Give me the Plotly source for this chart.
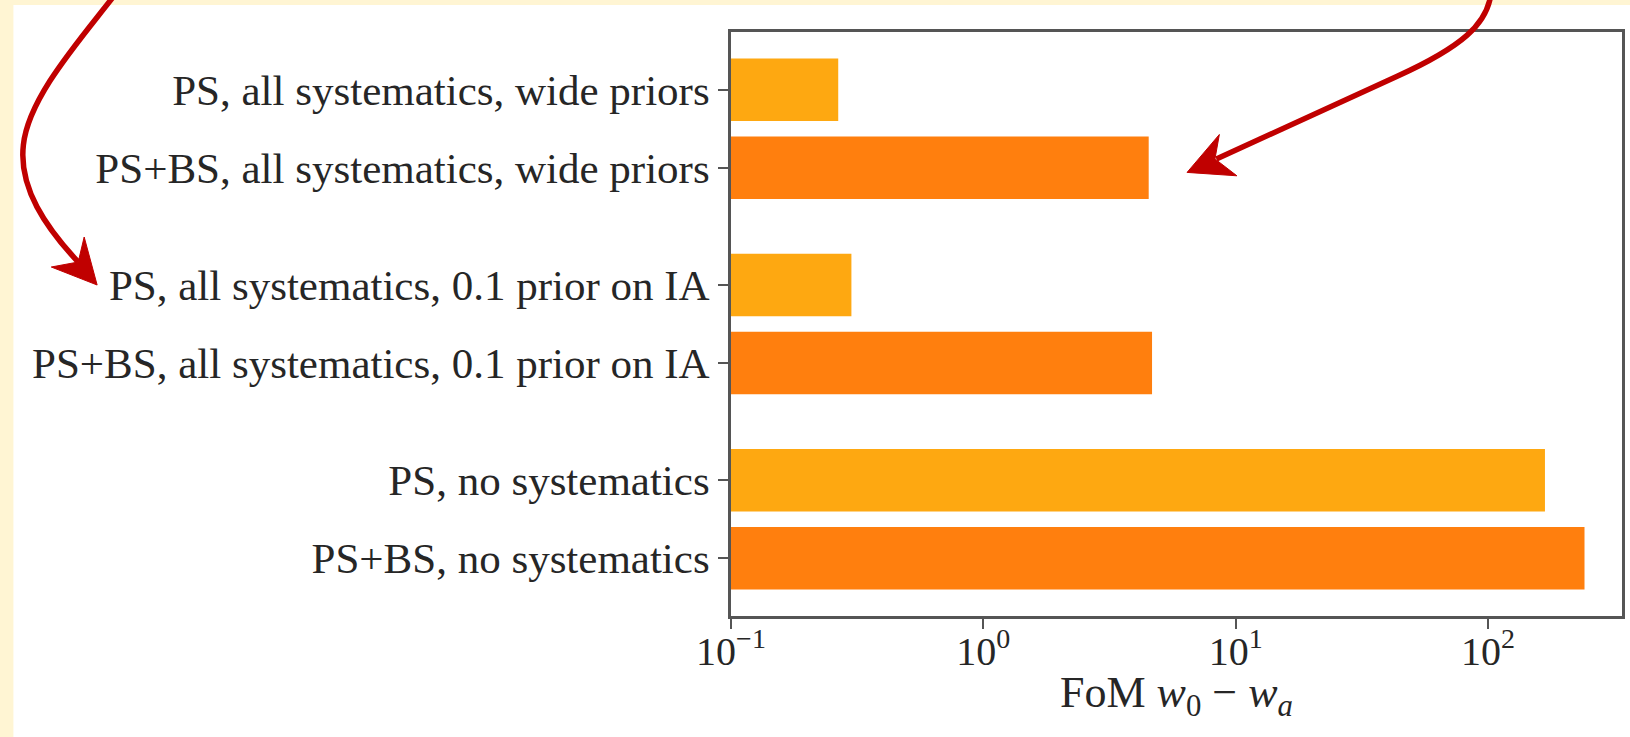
import plotly.graph_objects as go

# ---- data ----
categories = [
    "PS, all systematics, wide priors",
    "PS+BS, all systematics, wide priors",
    "PS, all systematics, 0.1 prior on IA",
    "PS+BS, all systematics, 0.1 prior on IA",
    "PS, no systematics",
    "PS+BS, no systematics",
]
probe = ["PS", "PS+BS", "PS", "PS+BS", "PS", "PS+BS"]
fom = [0.266, 4.52, 0.300, 4.66, 168, 241]

tick_vals = [0.1, 1, 10, 100]
tick_text = ["10<sup>−1</sup>", "10<sup>0</sup>", "10<sup>1</sup>", "10<sup>2</sup>"]
x_title = "FoM <i>w</i><sub>0</sub> − <i>w</i><sub><i>a</i></sub>"

colors = {"PS": "#FEA811", "PS+BS": "#FF7F0E"}

# positions: pairs grouped with a gap between groups
y_pos = [(i // 2) * 2.5 + (i % 2) for i in range(len(categories))]

W, H = 1630, 737
ML, MR, MT, MB = 731, 5, 32, 121
PW, PH = W - ML - MR, H - MT - MB


def px(x):
    return (x - ML) / PW


def py(y):
    return 1 - (y - MT) / PH


def path(pts_cmds):
    out = []
    for cmd, pts in pts_cmds:
        s = cmd + " " + " ".join(f"{px(a):.5f},{py(b):.5f}" for a, b in pts)
        out.append(s)
    return " ".join(out)


font_family = "Liberation Serif, DejaVu Serif, serif"
txt_color = "#262626"

fig = go.Figure()
fig.add_trace(go.Bar(
    x=fom,
    y=y_pos,
    orientation="h",
    width=0.8,
    marker=dict(color=[colors[p] for p in probe], line=dict(width=0)),
    hoverinfo="x+text",
    text=categories,
    textposition="none",
))

red = "#C00000"
shapes = [
    # white panel over cream page
    dict(type="rect", xref="paper", yref="paper", layer="below",
         x0=px(11), x1=px(W + 5), y0=py(H + 5), y1=py(5),
         fillcolor="white", line=dict(width=0)),
    # left curved arrow
    dict(type="path", xref="paper", yref="paper",
         path=path([("M", [(111, -3)]),
                    ("C", [(76, 42), (26, 98), (21, 145)]),
                    ("C", [(16, 188), (44, 228), (76, 262)])]),
         line=dict(color=red, width=5.5)),
    dict(type="path", xref="paper", yref="paper",
         path=path([("M", [(95, 285)]), ("L", [(49, 267)]),
                    ("L", [(76, 262)]), ("L", [(82, 237)])]) + " Z",
         fillcolor=red, line=dict(color=red, width=1)),
    # right curved arrow
    dict(type="path", xref="paper", yref="paper",
         path=path([("M", [(1493, -3)]),
                    ("C", [(1488, 24), (1466, 46), (1400, 76)]),
                    ("L", [(1218, 159)])]),
         line=dict(color=red, width=5.5)),
    dict(type="path", xref="paper", yref="paper",
         path=path([("M", [(1188.6, 172.4)]), ("L", [(1221, 134.5)]),
                    ("L", [(1216.6, 158.9)]), ("L", [(1238.6, 175.8)])]) + " Z",
         fillcolor=red, line=dict(color=red, width=1)),
]

fig.update_layout(
    width=W, height=H,
    margin=dict(l=ML, r=MR, t=MT, b=MB, pad=0),
    paper_bgcolor="#FFF5D3",
    plot_bgcolor="white",
    showlegend=False,
    shapes=shapes,
    font=dict(family=font_family, size=43, color=txt_color),
    xaxis=dict(
        type="log",
        range=[-1, 2.5306],
        tickvals=tick_vals,
        ticktext=tick_text,
        ticks="outside", ticklen=10, tickwidth=2, tickcolor="#555",
        showline=True, linecolor="#555", linewidth=2.5, mirror=True,
        showgrid=False, zeroline=False,
        tickfont=dict(size=40),
        ticklabelstandoff=-12,
    ),
    yaxis=dict(
        range=[6.74, -0.74],
        tickvals=y_pos,
        ticktext=categories,
        ticks="outside", ticklen=10, tickwidth=2, tickcolor="#555",
        showline=True, linecolor="#555", linewidth=2.5, mirror=True,
        showgrid=False, zeroline=False,
        tickfont=dict(size=43),
        ticklabelstandoff=0,
    ),
    annotations=[dict(
        text=x_title, xref="paper", yref="paper",
        x=px(1178), y=py(695), xanchor="center", yanchor="middle",
        showarrow=False, font=dict(size=44, color=txt_color),
    )],
)

fig.write_html("out.html", config={"displayModeBar": False},
               post_script="document.body.style.margin='0';document.body.style.padding='0';")
